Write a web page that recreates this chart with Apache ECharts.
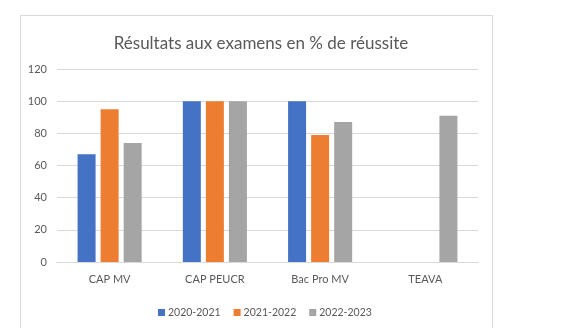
<!DOCTYPE html>
<html><head><meta charset="utf-8">
<script src="https://cdn.jsdelivr.net/npm/echarts@6/dist/echarts.min.js"></script>
<style>html,body{margin:0;padding:0;background:#fff}#c{width:579px;height:328px}</style>
</head><body><div id="c"></div>
<script>
const categories = ['CAP MV', 'CAP PEUCR', 'Bac Pro MV', 'TEAVA'];
const seriesNames = ['2020-2021', '2021-2022', '2022-2023'];
const s2020 = [67, 100, 100, null];
const s2021 = [95, 100, 79, null];
const s2022 = [74, 100, 87, 91];
const yTicks = [0, 20, 40, 60, 80, 100, 120];
const colors = ['#4472C4', '#ED7D31', '#A5A5A5'];

const chart = echarts.init(document.getElementById('c'), null, {renderer: 'canvas'});
const font = 'Lato, "Open Sans", sans-serif';
const data = [s2020, s2021, s2022];
chart.setOption({
  animation: false,
  backgroundColor: '#fff',
  graphic: [{type: 'rect', shape: {x: 20.5, y: 15.5, width: 472, height: 330}, style: {fill: 'none', stroke: '#D9D9D9', lineWidth: 1}, z: -1}],
  title: {text: 'Résultats aux examens en % de réussite', left: 256, textAlign: 'center', top: 30,
    textStyle: {fontFamily: font, fontSize: 17, fontWeight: 'normal', color: '#595959'}},
  legend: {data: seriesNames, left: 153, top: 302, itemWidth: 7, itemHeight: 7, itemGap: 13, icon: 'rect',
    textStyle: {fontFamily: font, fontSize: 10.5, color: '#595959', padding: [0, 0, 0, -2]}},
  grid: {left: 57, right: 101, top: 69, bottom: 66, containLabel: false},
  xAxis: {type: 'category', data: categories,
    axisLine: {lineStyle: {color: '#D9D9D9'}}, axisTick: {show: false},
    axisLabel: {fontFamily: font, fontSize: 11, color: '#595959', margin: 12}},
  yAxis: {type: 'value', min: yTicks[0], max: yTicks[yTicks.length - 1], interval: 20,
    axisLine: {show: false}, axisTick: {show: false},
    splitLine: {lineStyle: {color: '#D9D9D9'}},
    axisLabel: {fontFamily: font, fontSize: 11, color: '#595959', margin: 10}},
  series: seriesNames.map((n, i) => ({
    name: n, type: 'bar', data: data[i], barWidth: 18, barGap: '28%',
    itemStyle: {color: colors[i]}
  }))
});
</script></body></html>
